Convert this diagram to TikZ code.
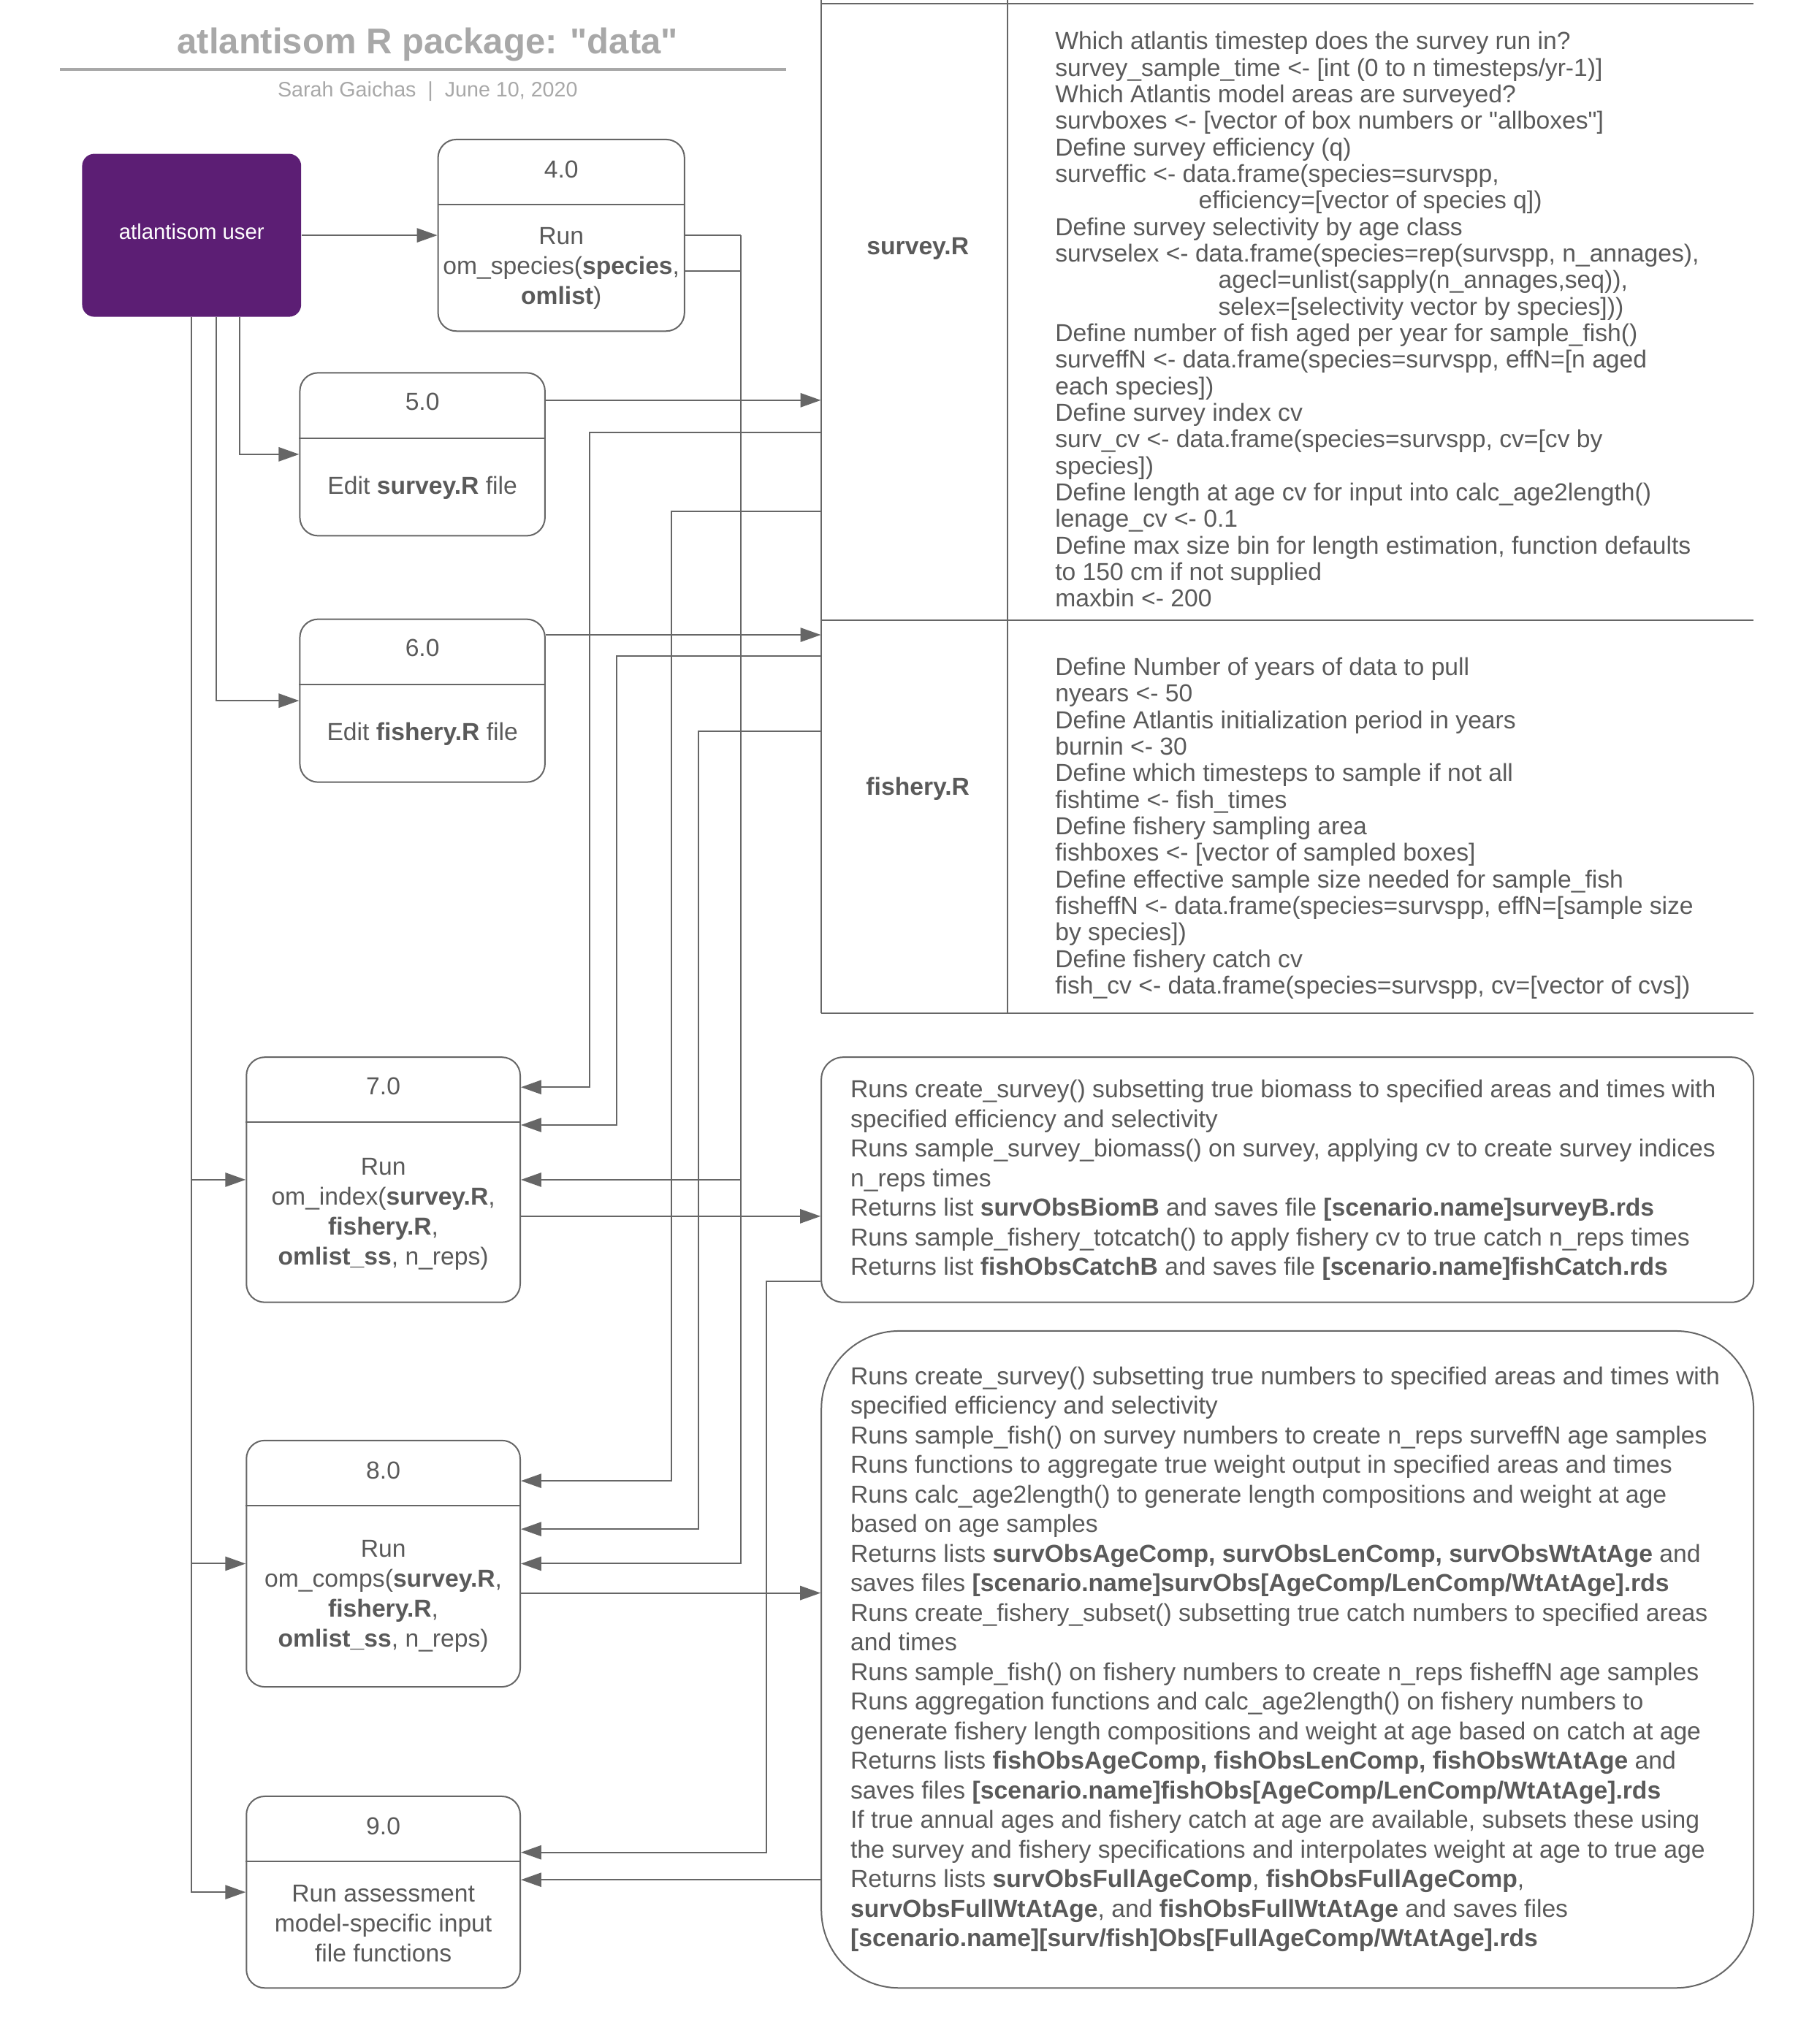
\documentclass[tikz,border=0pt]{standalone}
\usepackage{fontspec}
\setmainfont{Liberation Sans}
\usetikzlibrary{arrows.meta,fit,calc}
\definecolor{ink}{HTML}{5A5A5A}
\definecolor{edge}{HTML}{666666}
\definecolor{faint}{HTML}{A8A8A8}
\definecolor{plum}{HTML}{5C1E74}
\begin{document}
\begin{tikzpicture}[x=0.5354pt,y=-0.5354pt,
  wire/.style={draw=edge,line width=0.6pt},
  arr/.style={wire,-{Triangle[length=8.4pt,width=5.8pt]}},
  proc/.style={wire,rounded corners=7.5pt,inner sep=0pt,fill=white},
  lbl/.style={text=ink,font=\fontsize{10.1}{12.3}\selectfont,align=center,inner sep=0pt},
  body/.style={text=ink,align=left,inner sep=0pt,anchor=north west},
]
\useasboundingbox (0,0) rectangle (1387,1568);

% ---------- heading ----------
\node[text=faint,font=\bfseries\fontsize{14.7}{17}\selectfont,anchor=base,inner sep=0pt] (title) at (328,41) {atlantisom R package: \textquotedbl data\textquotedbl};
\draw[faint,line width=1.2pt] (46,53) -- (603,53);
\node[text=faint,font=\fontsize{8.6}{10}\selectfont,anchor=base,inner sep=0pt] (byline) at (328,74) {Sarah Gaichas \;|\; June 10, 2020};

% ---------- lane coordinates ----------
\foreach \y in {157,208,307,332,336,392,487,503,525,561,834,861,863,933,983,1136,1155,1173,1222,1421,1428,1442}
  \coordinate (h\y) at (0,\y);
\foreach \x in {166,184,452,473,515,536,568,588}
  \coordinate (v\x) at (\x,0);

% ---------- actor ----------
\node[fill=plum,rounded corners=5pt,inner sep=0pt,fit={(63,118) (231,243)}] (user) {};
\node[text=white,font=\fontsize{8.8}{10}\selectfont,inner sep=0pt] at ($(user.center)+(0,-3)$) {atlantisom user};

% ---------- process boxes ----------
\node[proc,fit={(336,107) (525,254)}] (b4) {};
\node[proc,fit={(230,286) (418,411)}] (b5) {};
\node[proc,fit={(230,475) (418,600)}] (b6) {};
\node[proc,fit={(189,811) (399,999)}] (b7) {};
\node[proc,fit={(189,1105) (399,1294)}] (b8) {};
\node[proc,fit={(189,1378) (399,1525)}] (b9) {};
\draw[wire] (b4.west |- h157) -- (b4.east |- h157);
\draw[wire] (b5.west |- h336) -- (b5.east |- h336);
\draw[wire] (b6.west |- h525) -- (b6.east |- h525);
\draw[wire] (b7.west |- h861) -- (b7.east |- h861);
\draw[wire] (b8.west |- h1155) -- (b8.east |- h1155);
\draw[wire] (b9.west |- h1428) -- (b9.east |- h1428);

\node[lbl] at (430.5,130) {4.0};
\node[lbl] at (430.5,206) {Run\\om\_species(\textbf{species},\\\textbf{omlist})};
\node[lbl] at (324,308) {5.0};
\node[lbl] at (324,374) {Edit \textbf{survey.R} file};
\node[lbl] at (324,497) {6.0};
\node[lbl] at (324,563) {Edit \textbf{fishery.R} file};
\node[lbl] at (294,833) {7.0};
\node[lbl] at (294,931.5) {Run\\om\_index(\textbf{survey.R},\\\textbf{fishery.R},\\\textbf{omlist\_ss}, n\_reps)};
\node[lbl] at (294,1128) {8.0};
\node[lbl] at (294,1224.5) {Run\\om\_comps(\textbf{survey.R},\\\textbf{fishery.R},\\\textbf{omlist\_ss}, n\_reps)};
\node[lbl] at (294,1401) {9.0};
\node[lbl] at (294,1475.5) {Run assessment\\model-specific input\\file functions};

% ---------- parameter files table ----------
\node[inner sep=0pt,fit={(630,3) (1345,476)}] (tsurv) {};
\node[inner sep=0pt,fit={(630,476) (1345,777)}] (tfish) {};
\draw[wire] (630,0) -- (630,777);
\draw[wire] (773,0) -- (773,777);
\draw[wire] (630,3) -- (1345,3);
\draw[wire] (630,476) -- (1345,476);
\draw[wire] (630,777) -- (1345,777);
\node[text=ink,font=\bfseries\fontsize{10.1}{12}\selectfont] at (704,191) {survey.R};
\node[text=ink,font=\bfseries\fontsize{10.1}{12}\selectfont] at (704,605) {fishery.R};

\node[body,font=\fontsize{10.1}{10.9}\selectfont] (survtxt) at (809,24) {%
Which atlantis timestep does the survey run in?\\
survey\_sample\_time <- [int (0 to n timesteps/yr-1)]\\
Which Atlantis model areas are surveyed?\\
survboxes <- [vector of box numbers or \textquotedbl allboxes\textquotedbl]\\
Define survey efficiency (q)\\
surveffic <- data.frame(species=survspp,\\
\hspace*{58.9pt}efficiency=[vector of species q])\\
Define survey selectivity by age class\\
survselex <- data.frame(species=rep(survspp, n\_annages),\\
\hspace*{67pt}agecl=unlist(sapply(n\_annages,seq)),\\
\hspace*{67pt}selex=[selectivity vector by species]))\\
Define number of fish aged per year for sample\_fish()\\
surveffN <- data.frame(species=survspp, effN=[n aged\\
each species])\\
Define survey index cv\\
surv\_cv <- data.frame(species=survspp, cv=[cv by\\
species])\\
Define length at age cv for input into calc\_age2length()\\
lenage\_cv <- 0.1\\
Define max size bin for length estimation, function defaults\\
to 150 cm if not supplied\\
maxbin <- 200};

\node[body,font=\fontsize{10.1}{10.9}\selectfont] (fishtxt) at (809,504) {%
Define Number of years of data to pull\\
nyears <- 50\\
Define Atlantis initialization period in years\\
burnin <- 30\\
Define which timesteps to sample if not all\\
fishtime <- fish\_times\\
Define fishery sampling area\\
fishboxes <- [vector of sampled boxes]\\
Define effective sample size needed for sample\_fish\\
fisheffN <- data.frame(species=survspp, effN=[sample size\\
by species])\\
Define fishery catch cv\\
fish\_cv <- data.frame(species=survspp, cv=[vector of cvs])};

% ---------- output descriptions ----------
\node[proc,rounded corners=9pt,fit={(630,811) (1345,999)}] (outA) {};
\node[proc,rounded corners=32pt,fit={(630,1021) (1345,1525)}] (outB) {};

\node[body,font=\fontsize{10.1}{12.15}\selectfont] (outAtxt) at (652,828) {%
Runs create\_survey() subsetting true biomass to specified areas and times with\\
specified efficiency and selectivity\\
Runs sample\_survey\_biomass() on survey, applying cv to create survey indices\\
n\_reps times\\
Returns list \textbf{survObsBiomB} and saves file \textbf{[scenario.name]surveyB.rds}\\
Runs sample\_fishery\_totcatch() to apply fishery cv to true catch n\_reps times\\
Returns list \textbf{fishObsCatchB} and saves file \textbf{[scenario.name]fishCatch.rds}};

\node[body,font=\fontsize{10.1}{12.15}\selectfont] (outBtxt) at (652,1048) {%
Runs create\_survey() subsetting true numbers to specified areas and times with\\
specified efficiency and selectivity\\
Runs sample\_fish() on survey numbers to create n\_reps surveffN age samples\\
Runs functions to aggregate true weight output in specified areas and times\\
Runs calc\_age2length() to generate length compositions and weight at age\\
based on age samples\\
Returns lists \textbf{survObsAgeComp, survObsLenComp, survObsWtAtAge} and\\
saves files \textbf{[scenario.name]survObs[AgeComp/LenComp/WtAtAge].rds}\\
Runs create\_fishery\_subset() subsetting true catch numbers to specified areas\\
and times\\
Runs sample\_fish() on fishery numbers to create n\_reps fisheffN age samples\\
Runs aggregation functions and calc\_age2length() on fishery numbers to\\
generate fishery length compositions and weight at age based on catch at age\\
Returns lists \textbf{fishObsAgeComp, fishObsLenComp, fishObsWtAtAge} and\\
saves files \textbf{[scenario.name]fishObs[AgeComp/LenComp/WtAtAge].rds}\\
If true annual ages and fishery catch at age are available, subsets these using\\
the survey and fishery specifications and interpolates weight at age to true age\\
Returns lists \textbf{survObsFullAgeComp}, \textbf{fishObsFullAgeComp},\\
\textbf{survObsFullWtAtAge}, and \textbf{fishObsFullWtAtAge} and saves files\\
\textbf{[scenario.name][surv/fish]Obs[FullAgeComp/WtAtAge].rds}};

% ---------- connectors ----------
\draw[arr] (user.east) -- (b4.west);
\draw[arr] (v184 |- user.south) |- (b5.west);
\draw[arr] (v166 |- user.south) |- (b6.west);
\draw[arr] (user.south) |- (b7.west);
\draw[arr] (user.south) |- (b8.west);
\draw[arr] (user.south) |- (b9.west);

\draw[wire] (b4.east) -- (v568 |- b4.east);
\draw[wire] (b4.east |- h208) -- (v568 |- h208);
\draw[arr] (v568 |- b4.east) |- (b7.east);
\draw[arr] (v568 |- b4.east) |- (b8.east);

\draw[arr] (b5.east |- h307) -- (tsurv.west |- h307);
\draw[arr] (b6.east |- h487) -- (tfish.west |- h487);

\draw[arr] (tsurv.west |- h332) -| (v452 |- h834) -- (b7.east |- h834);
\draw[arr] (tfish.west |- h503) -| (v473 |- h863) -- (b7.east |- h863);
\draw[arr] (tsurv.west |- h392) -| (v515 |- h1136) -- (b8.east |- h1136);
\draw[arr] (tfish.west |- h561) -| (v536 |- h1173) -- (b8.east |- h1173);

\draw[arr] (b7.east |- h933) -- (outA.west |- h933);
\draw[arr] (b8.east |- h1222) -- (outB.west |- h1222);

\draw[arr] (outA.west |- h983) -| (v588 |- h1421) -- (b9.east |- h1421);
\draw[arr] (outB.west |- h1442) -- (b9.east |- h1442);
\end{tikzpicture}
\end{document}
